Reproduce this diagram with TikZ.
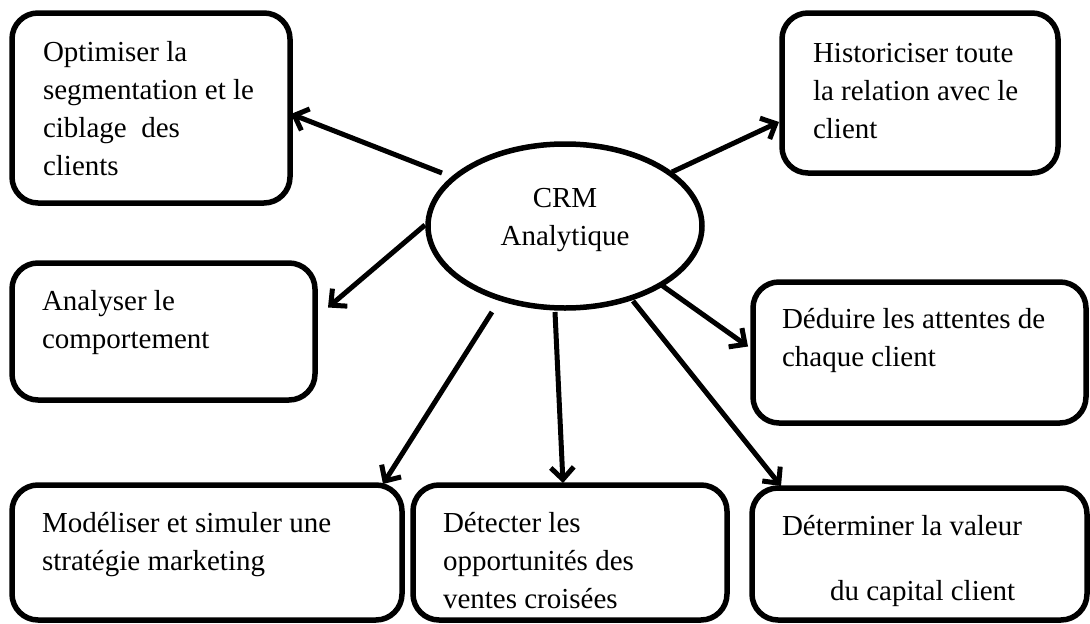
\documentclass[tikz,border=0pt]{standalone}
\usepackage{fontspec}
\setmainfont{Liberation Serif}
\usetikzlibrary{shapes.geometric,arrows.meta,calc}

\tikzset{
  box/.style={draw, line width=5.5pt, rounded corners=26pt, anchor=north west,
              inner sep=0pt, outer sep=0pt},
  lbl/.style={inner sep=0pt, outer sep=0pt, align=left, anchor=north west,
              font=\fontsize{29}{38}\selectfont},
  hub/.style={draw, ellipse, line width=5.5pt, inner sep=0pt,
              minimum width=274pt, minimum height=164pt},
  arr/.style={line width=5pt, -{Straight Barb[length=12pt,width=23pt]}}
}

\begin{document}
\begin{tikzpicture}[x=1pt,y=-1pt]
\useasboundingbox (0,0) rectangle (1090,624);

% central ellipse
\node[hub] (crm) at (565,226) {};
\node[lbl, align=center, anchor=center] (crmlbl) at (565,219)
  {\strut CRM\\\strut Analytique};

% surrounding boxes
\node[box, minimum width=278pt, minimum height=190pt] (b1) at (12,13) {};
\node[box, minimum width=276pt, minimum height=160pt] (b2) at (782,13) {};
\node[box, minimum width=303pt, minimum height=137pt] (b3) at (12,263) {};
\node[box, minimum width=333pt, minimum height=141pt] (b4) at (753,282) {};
\node[box, minimum width=390pt, minimum height=135pt] (b5) at (12,485) {};
\node[box, minimum width=314pt, minimum height=135pt] (b6) at (413,485) {};
\node[box, minimum width=335pt, minimum height=132pt] (b7) at (752,488) {};

% box texts
\node[lbl] (t1) at (43,34.4)
  {\strut Optimiser la\\segmentation et le\\ciblage\ \ des\\clients};
\node[lbl] (t2) at (813,35.4)
  {\strut Historiciser toute\\la relation avec le\\client};
\node[lbl] (t3) at (42,283.4)
  {\strut Analyser le\\comportement};
\node[lbl] (t4) at (782,301.4)
  {\strut Déduire les attentes de\\chaque client};
\node[lbl] (t5) at (42,505.4)
  {\strut Modéliser et simuler une\\stratégie marketing};
\node[lbl] (t6) at (443,505.4)
  {\strut Détecter les\\opportunités des\\ventes croisées};
\node[lbl] (t7a) at (782,508.4) {\strut Déterminer la valeur};
\node[lbl] (t7b) at (830,573.4) {\strut du capital client};

% connectors from the hub to each box
\draw[arr] ($(crm)+(-123,-53)$) -- ($(b1.east)+(1,6)$);
\draw[arr] ($(crm)+(107,-54)$)  -- ($(b2.west)+(-3,29)$);
\draw[arr] ($(crm)+(-140,-1)$)  -- ($(b3.east)+(13,-24)$);
\draw[arr] ($(crm)+(95,58)$)    -- ($(b4.west)+(-5,-6)$);
\draw[arr] ($(crm)+(-73,86)$)   -- ($(b5.north east)+(-19,-1)$);
\draw[arr] ($(crm)+(-10,86)$)   -- ($(b6.north)+(-7,-2)$);
\draw[arr] ($(crm)+(68,75)$)    -- ($(b7.north west)+(29,-2)$);
\end{tikzpicture}
\end{document}
